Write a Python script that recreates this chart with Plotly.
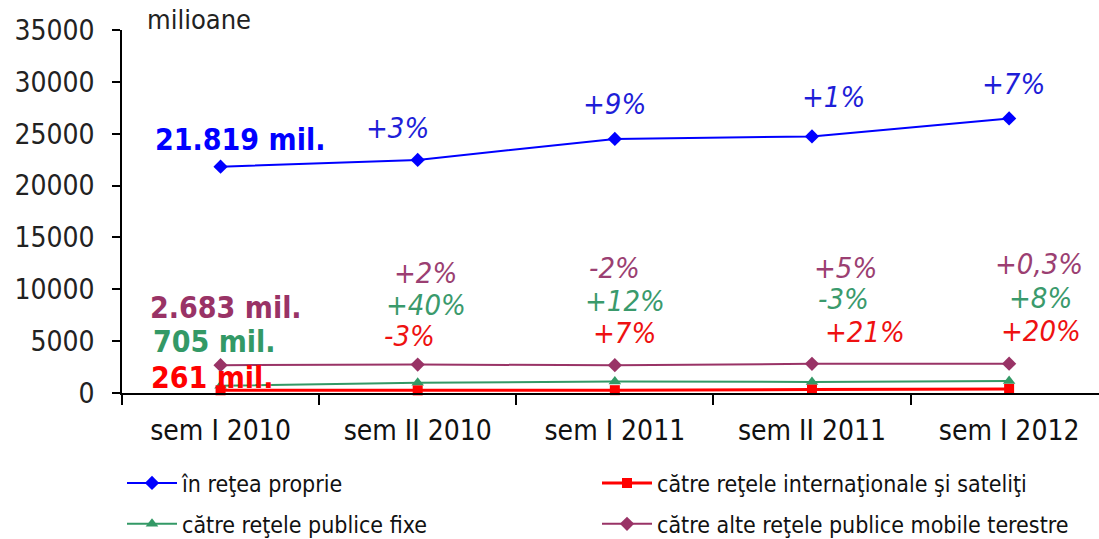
import plotly.graph_objects as go

categories = ["sem I 2010", "sem II 2010", "sem I 2011", "sem II 2011", "sem I 2012"]

in_retea_proprie = [21819, 22474, 24497, 24742, 26474]
catre_internationale = [261, 253, 271, 328, 393]
catre_publice_fixe = [705, 987, 1105, 1072, 1158]
catre_alte_mobile = [2683, 2737, 2682, 2816, 2825]

start_labels = ["21.819 mil.", "2.683 mil.", "705 mil.", "261 mil."]

growth_proprie = ["+3%", "+9%", "+1%", "+7%"]
growth_alte_mobile = ["+2%", "-2%", "+5%", "+0,3%"]
growth_publice_fixe = ["+40%", "+12%", "-3%", "+8%"]
growth_internationale = ["-3%", "+7%", "+21%", "+20%"]

BLUE = "#0000FF"
RED = "#FF0000"
GREEN = "#339966"
PURPLE = "#993366"
FONT = "DejaVu Sans Condensed, DejaVu Sans"

fig = go.Figure()

series = [
    ("în reţea proprie", in_retea_proprie, BLUE, "diamond", 11, 2, "legend"),
    ("către reţele publice fixe", catre_publice_fixe, GREEN, "triangle-up", 11, 2, "legend2"),
    ("către alte reţele publice mobile terestre", catre_alte_mobile, PURPLE, "diamond", 11, 2, "legend2"),
    ("către reţele internaţionale şi sateliţi", catre_internationale, RED, "square", 10, 3, "legend"),
]
for name, vals, color, sym, size, lw, leg in series:
    fig.add_trace(go.Scatter(
        x=categories, y=vals, name=name, mode="lines+markers",
        line=dict(color=color, width=lw),
        marker=dict(symbol=sym, size=size, color=color),
        cliponaxis=False, legend=leg,
    ))

# bold starting values next to the first point
start_pos = [(0.10, 24400, BLUE), (0.03, 8290, PURPLE), (-0.03, 4920, GREEN), (-0.04, 1540, RED)]
for text, (xi, yv, col) in zip(start_labels, start_pos):
    fig.add_annotation(x=xi, y=yv, xref="x", yref="y", text=f"<b>{text}</b>",
                       showarrow=False, font=dict(size=30, color=col, family=FONT))

# italic growth rates above each later point
growth_rows = [
    (growth_proprie, [0.90, 2.0, 3.11, 4.02], [25550, 27870, 28540, 29800], "#1E1ED8"),
    (growth_alte_mobile, [1.04, 2.0, 3.17, 4.15], [11570, 12050, 12050, 12440], "#9B3F72"),
    (growth_publice_fixe, [1.04, 2.05, 3.16, 4.16], [8490, 8870, 9060, 9160], "#3A9A6C"),
    (growth_internationale, [0.96, 2.05, 3.27, 4.16], [5500, 5790, 5880, 5980], "#EE1111"),
]
for texts, xs, ys, col in growth_rows:
    for t, xi, yv in zip(texts, xs, ys):
        fig.add_annotation(x=xi, y=yv, xref="x", yref="y", text=f"<i>{t}</i>",
                           showarrow=False, font=dict(size=29, color=col, family=FONT))

fig.add_annotation(x=0.0235, y=1.03, xref="paper", yref="paper", text="milioane",
                   xanchor="left", yanchor="middle", showarrow=False,
                   font=dict(size=27, color="#222222", family=FONT))

fig.update_xaxes(
    type="category", range=[-0.5, 4.456], tickson="boundaries",
    ticks="outside", ticklen=10, tickcolor="black", tickwidth=1.5,
    showline=True, linecolor="black", linewidth=1.5, showgrid=False,
    ticklabelstandoff=12, tickfont=dict(size=28, color="#111111", family=FONT),
)
fig.update_yaxes(
    range=[0, 35000], dtick=5000, tickformat="d",
    ticks="outside", ticklen=8, tickcolor="black", tickwidth=1.5,
    showline=True, linecolor="black", linewidth=1.5, showgrid=False, zeroline=False,
    ticklabelstandoff=12, tickfont=dict(size=28, color="#222222", family=FONT),
)

legend_style = dict(
    orientation="h", xanchor="left", yanchor="middle", yref="container",
    entrywidth=410, itemwidth=50, font=dict(size=23, color="#111111", family=FONT),
    bgcolor="rgba(0,0,0,0)",
)
fig.update_layout(
    width=1099, height=539,
    margin=dict(l=122, r=0, t=30, b=146),
    paper_bgcolor="white", plot_bgcolor="white",
    font=dict(family=FONT),
    legend=dict(x=0.0, y=0.104, **legend_style),
    legend2=dict(x=0.0, y=0.028, **legend_style),
)

fig.write_html("out.html", config={"displayModeBar": False},
               post_script="document.body.style.margin='0';")
